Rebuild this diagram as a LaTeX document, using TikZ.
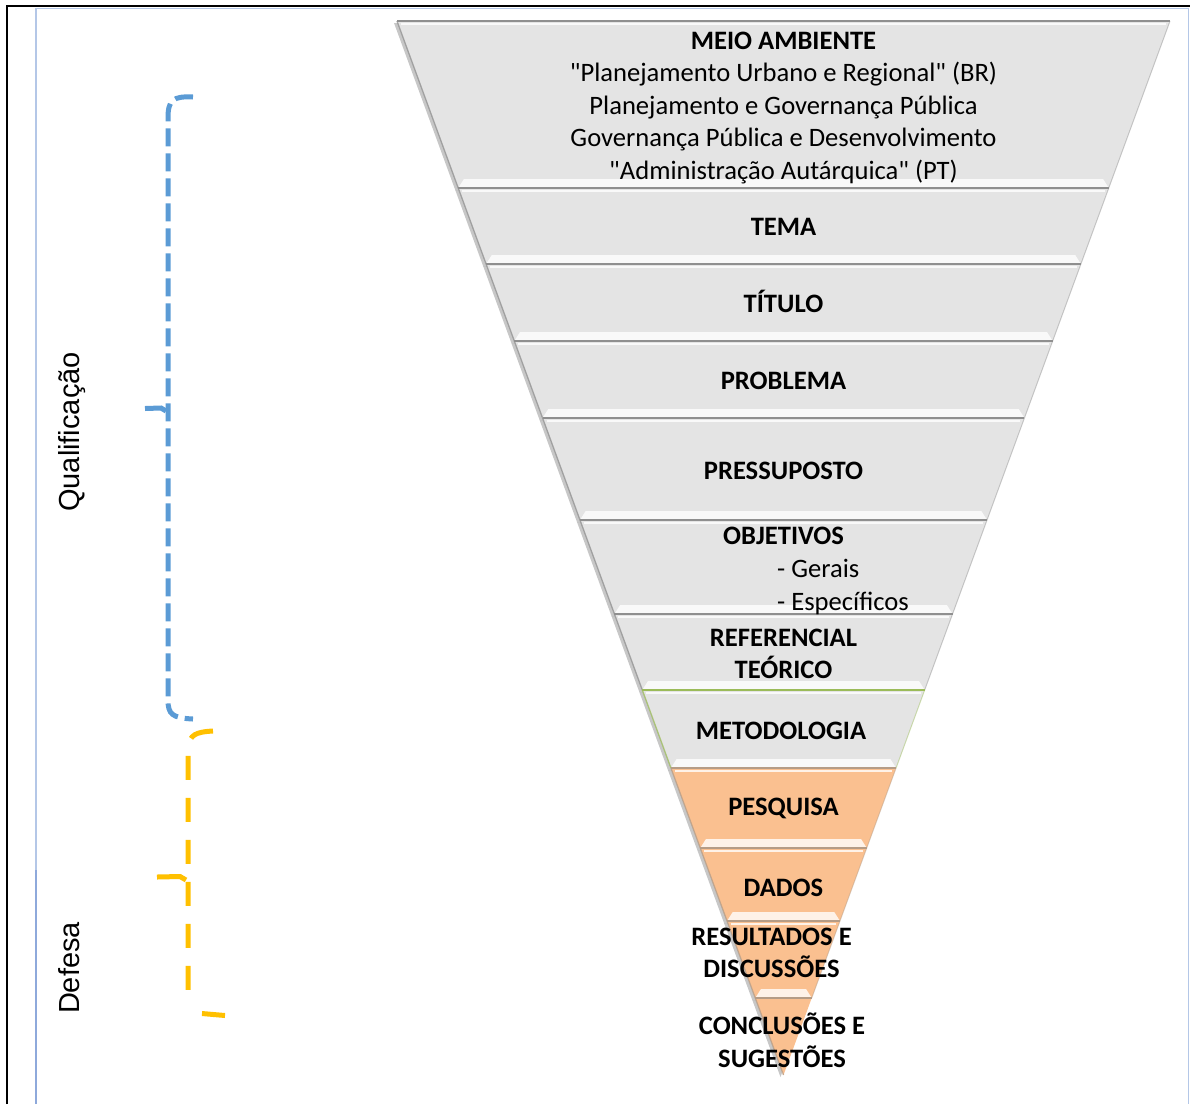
\documentclass[tikz,border=0pt]{standalone}
\usepackage{fontspec}
\setmainfont{Carlito}
\newfontfamily\arialfont{Liberation Sans}
\usetikzlibrary{shadows}

\definecolor{cinza}{HTML}{E4E4E4}
\definecolor{cinzaborda}{HTML}{8F8F8F}
\definecolor{laranja}{HTML}{FAC090}
\definecolor{laranjaborda}{HTML}{B59C86}
\definecolor{verdeborda}{HTML}{9BBB59}
\definecolor{azulchave}{HTML}{5B9BD5}
\definecolor{amarelochave}{HTML}{FFC000}
\definecolor{azulmoldura}{HTML}{B4C7E7}
\definecolor{azulmolduraesc}{HTML}{8EA9DB}

\tikzset{
  rotulo/.style={font=\fontsize{26.6}{32.5}\selectfont\bfseries, align=center, inner sep=0pt},
  texto/.style={font=\fontsize{26.6}{32.5}\selectfont, inner sep=0pt},
  fase/.style={font=\arialfont\fontsize{29}{34}\selectfont, rotate=90, inner sep=0pt},
  chaveazul/.style={azulchave, line width=5pt, dash pattern=on 18pt off 7pt},
  chaveamarela/.style={amarelochave, line width=5pt, dash pattern=on 24pt off 18pt},
  sombra/.style={drop shadow={shadow xshift=-3pt, shadow yshift=-2pt, opacity=.22, fill=black}},
}

\begin{document}
\begin{tikzpicture}[x=1pt,y=-1pt]
    \useasboundingbox (0,0) rectangle (1190,1104);

    % moldura
    \draw[azulmoldura, line width=1.3pt] (36,1104) -- (36,8.6) -- (1188.5,8.6) -- (1188.5,1104);
    \draw[azulmolduraesc, line width=1.3pt] (36,870) -- (36,1104);
    \draw[black, line width=2.4pt] (7,1104) -- (7,6.2) -- (1190,6.2);

    % funil
    \foreach \topo/\base/\cor/\borda in {21/188/cinza/cinzaborda, 188/264/cinza/cinzaborda,
        264/341/cinza/cinzaborda, 341/418/cinza/cinzaborda, 418/520/cinza/cinzaborda,
        520/614/cinza/cinzaborda, 614/690/cinza/cinzaborda, 690/768/cinza/verdeborda,
        768/848/laranja/laranjaborda, 848/921/laranja/laranjaborda, 921/998/laranja/laranjaborda}
    {
        \pgfmathsetmacro{\xet}{783.5-0.3667*(1075-\topo)}
        \pgfmathsetmacro{\xdt}{783.5+0.3667*(1075-\topo)}
        \pgfmathsetmacro{\xeb}{783.5-0.3667*(1075-\base)}
        \pgfmathsetmacro{\xdb}{783.5+0.3667*(1075-\base)}
        \pgfmathsetmacro{\hy}{\base-9}
        \pgfmathsetmacro{\xeh}{783.5-0.3667*(1075-\hy)+9}
        \pgfmathsetmacro{\xdh}{783.5+0.3667*(1075-\hy)-9}
        \fill[\cor, sombra] (\xet,\topo) -- (\xdt,\topo) -- (\xdb,\base) -- (\xeb,\base) -- cycle;
        \fill[white, opacity=.8] (\xeh,\hy) -- (\xdh,\hy) -- (\xdb,\base) -- (\xeb,\base) -- cycle;
        \draw[\borda, line width=1.3pt, opacity=.75] (\xet,\topo) -- (\xeb,\base);
        \draw[\borda, line width=1pt, opacity=.45] (\xdt,\topo) -- (\xdb,\base);
        \draw[white, line width=1.2pt, opacity=.8] (\xet+4,\topo+3) -- (\xdt-4,\topo+3);
        \draw[\borda, line width=2.5pt] (\xet,\topo) -- (\xdt,\topo);
    }
    \fill[laranja, sombra] (755.3,998) -- (811.7,998) -- (783.5,1075) -- cycle;
    \draw[laranjaborda, line width=1.3pt, opacity=.75] (755.3,998) -- (783.5,1075);
    \draw[laranjaborda, line width=2.5pt] (755.3,998) -- (811.7,998);

    % textos do funil
    \node[texto, align=center] (meio) at (783.5,108) {\textbf{MEIO AMBIENTE}\\\textquotedbl Planejamento Urbano e Regional\textquotedbl{} (BR)\\Planejamento e Governança Pública\\Governança Pública e Desenvolvimento\\\textquotedbl Administração Autárquica\textquotedbl{} (PT)};
    \node[rotulo, anchor=base] (tema) at (783.5,235.6) {TEMA};
    \node[rotulo, anchor=base] (titulo) at (783.5,312.6) {TÍTULO};
    \node[rotulo, anchor=base] (problema) at (783.5,389.6) {PROBLEMA};
    \node[rotulo, anchor=base] (pressuposto) at (783.5,479.6) {PRESSUPOSTO};
    \node[rotulo, anchor=base] (objetivos) at (783.5,544.6) {OBJETIVOS};
    \node[texto, anchor=base west] (gerais) at (777,577.5) {- Gerais};
    \node[texto, anchor=base west] (especificos) at (777,610) {- Específicos};
    \node[rotulo] (referencial) at (783.5,654) {REFERENCIAL\\TEÓRICO};
    \node[rotulo, anchor=base] (metodologia) at (781,739.6) {METODOLOGIA};
    \node[rotulo, anchor=base] (pesquisa) at (783.5,815.6) {PESQUISA};
    \node[rotulo, anchor=base] (dados) at (783.5,896.6) {DADOS};
    \node[rotulo] (resultados) at (771.5,953) {RESULTADOS E\\DISCUSSÕES};
    \node[rotulo] (conclusoes) at (782,1040) {CONCLUSÕES E\\SUGESTÕES};

    % fases
    \node[fase, anchor=base] (qualificacao) at (79,432) {Qualificação};
    \node[fase, anchor=base] (defesa) at (79,968) {Defesa};

    % chaves
    \draw[chaveazul] (193,97) .. controls (173,96) and (168,100) .. (168,118) -- (168,700) .. controls (168,714) and (172,718) .. (193,719);
    \draw[azulchave, line width=5pt] (145,408.5) -- (161,408) -- (166,411);
    \draw[chaveamarela] (213,731) .. controls (195,732) and (190,735) .. (188,747) -- (188,1005);
    \draw[amarelochave, line width=5pt] (202,1013.5) -- (225,1015.5);
    \draw[amarelochave, line width=5pt] (157,877) -- (180,876.5) -- (186,880);
\end{tikzpicture}
\end{document}
